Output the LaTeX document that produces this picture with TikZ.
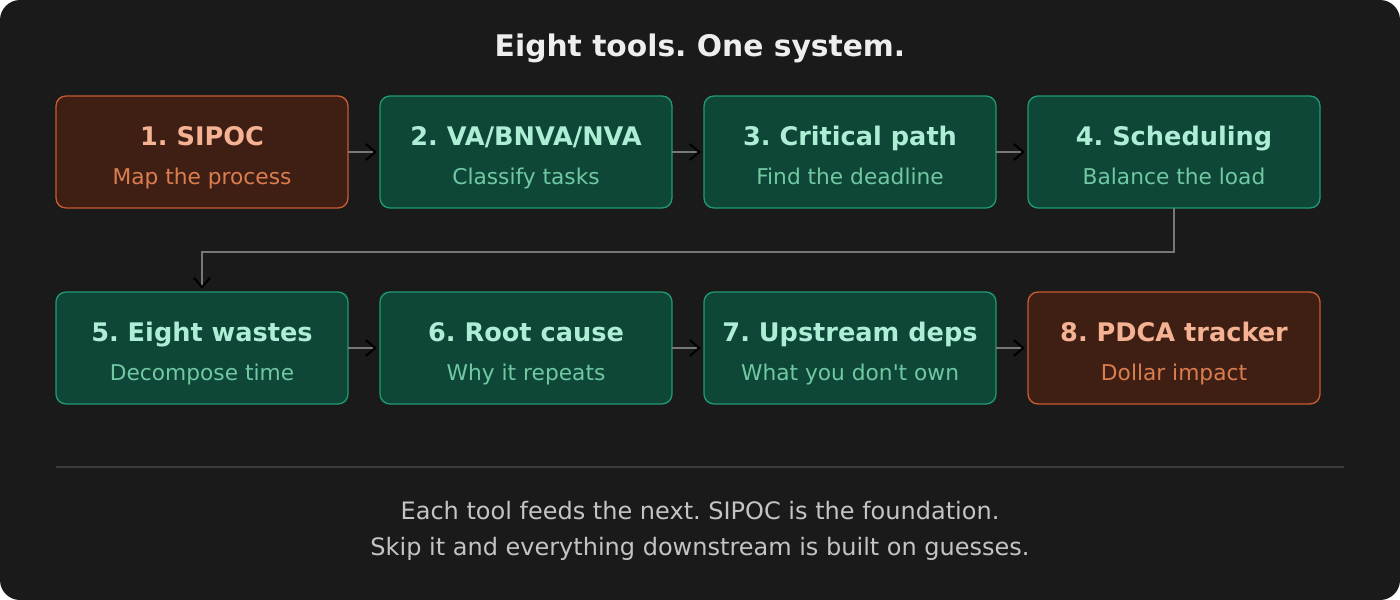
\documentclass[tikz,border=0pt]{standalone}
\usepackage{fontspec}
\setmainfont{DejaVu Sans}
\usepackage{tikz}
\usetikzlibrary{positioning,arrows.meta}
\frenchspacing

\definecolor{cBack}{HTML}{1A1A1A}
\definecolor{cGreenFill}{HTML}{0E4638}
\definecolor{cGreenLine}{HTML}{1F9A72}
\definecolor{cGreenHead}{HTML}{AEEED6}
\definecolor{cGreenSub}{HTML}{70C9A2}
\definecolor{cRedFill}{HTML}{3F1F14}
\definecolor{cRedLine}{HTML}{C95A32}
\definecolor{cRedHead}{HTML}{F6B394}
\definecolor{cRedSub}{HTML}{DB7D4F}
\definecolor{cLink}{HTML}{787878}
\definecolor{cRule}{HTML}{3A3A3A}
\definecolor{cFoot}{HTML}{C4C4C4}
\definecolor{cTitle}{HTML}{EEEEEE}

\begin{document}
\begin{tikzpicture}[
  tool/.style={draw, line width=1pt, rounded corners=7.5pt, minimum width=219pt, minimum height=84pt, inner sep=0pt, outer sep=0pt},
  greenbox/.style={tool, fill=cGreenFill, draw=cGreenLine},
  redbox/.style={tool, fill=cRedFill, draw=cRedLine},
  head/.style={anchor=base, font=\fontsize{19.2}{23}\selectfont\bfseries},
  sub/.style={anchor=base, font=\fontsize{16.3}{20}\selectfont},
  foot/.style={anchor=base, text=cFoot, font=\fontsize{18}{22}\selectfont},
  link/.style={draw=cLink, line width=2pt, shorten >=2.5pt,
    -{Straight Barb[length=7pt,width=12pt,line width=1.5pt,color=black]}},
  node distance=63pt and 24pt
]
\def\up{4.7pt}
\def\dn{-24.2pt}
% canvas
\useasboundingbox (0,0) rectangle (1050pt,-450pt);
\fill[white] (0,0) rectangle (1050pt,-450pt);
\fill[cBack, rounded corners=15pt] (0,0) rectangle (1050pt,-450pt);
\node[anchor=base, text=cTitle, font=\fontsize{22.3}{27}\selectfont\bfseries] (title) at (525pt,-42pt) {Eight tools. One system.};

% first row
\node[redbox] (b1) at (151.5pt,-114pt) {};
\node[greenbox, right=of b1] (b2) {};
\node[greenbox, right=of b2] (b3) {};
\node[greenbox, right=of b3] (b4) {};
% second row
\node[greenbox, below=of b1] (b5) {};
\node[greenbox, right=of b5] (b6) {};
\node[greenbox, right=of b6] (b7) {};
\node[redbox, right=of b7] (b8) {};

\node[head, text=cRedHead] (h1) at ([yshift=\up]b1.center) {1. SIPOC};
\node[sub, text=cRedSub] (s1) at ([yshift=\dn]b1.center) {Map the process};
\node[head, text=cGreenHead] (h2) at ([yshift=\up]b2.center) {2. VA/BNVA/NVA};
\node[sub, text=cGreenSub] (s2) at ([yshift=\dn]b2.center) {Classify tasks};
\node[head, text=cGreenHead] (h3) at ([yshift=\up]b3.center) {3. Critical path};
\node[sub, text=cGreenSub] (s3) at ([yshift=\dn]b3.center) {Find the deadline};
\node[head, text=cGreenHead] (h4) at ([yshift=\up]b4.center) {4. Scheduling};
\node[sub, text=cGreenSub] (s4) at ([yshift=\dn]b4.center) {Balance the load};
\node[head, text=cGreenHead] (h5) at ([yshift=\up]b5.center) {5. Eight wastes};
\node[sub, text=cGreenSub] (s5) at ([yshift=\dn]b5.center) {Decompose time};
\node[head, text=cGreenHead] (h6) at ([yshift=\up]b6.center) {6. Root cause};
\node[sub, text=cGreenSub] (s6) at ([yshift=\dn]b6.center) {Why it repeats};
\node[head, text=cGreenHead] (h7) at ([yshift=\up]b7.center) {7. Upstream deps};
\node[sub, text=cGreenSub] (s7) at ([yshift=\dn]b7.center) {What you don\textquotesingle t own};
\node[head, text=cRedHead] (h8) at ([yshift=\up]b8.center) {8. PDCA tracker};
\node[sub, text=cRedSub] (s8) at ([yshift=\dn]b8.center) {Dollar impact};

% links
\foreach \a/\b in {b1/b2,b2/b3,b3/b4,b5/b6,b6/b7,b7/b8}
  \draw[link] (\a) -- (\b);
\draw[link] (b4.south) -- ++(0,-33pt) -| (b5.north);

% footer
\coordinate (r1) at (42pt,-350.25pt);
\coordinate (r2) at (1008pt,-350.25pt);
\draw[cRule, line width=1pt] (r1) -- (r2);
\node[foot] (f1) at (525pt,-389.5pt) {Each tool feeds the next. SIPOC is the foundation.};
\node[foot] (f2) at (525pt,-416.3pt) {Skip it and everything downstream is built on guesses.};
\end{tikzpicture}
\end{document}
